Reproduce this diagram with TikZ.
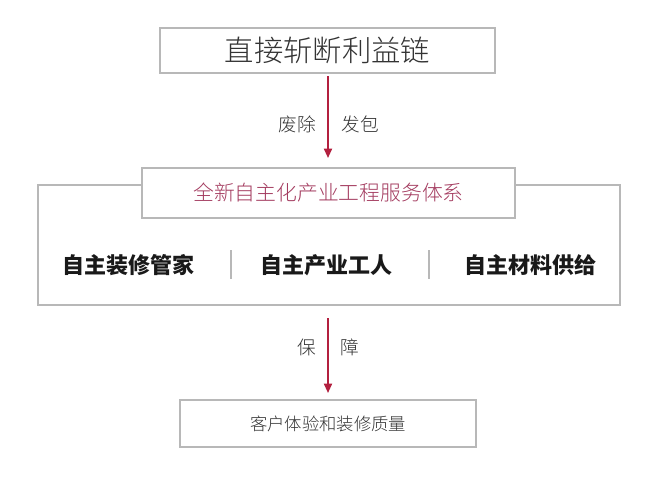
\documentclass[tikz,border=0pt]{standalone}
\usepackage{fontspec}
\newfontfamily\cjk{Noto Sans CJK SC}
\newfontfamily\cjkl{Noto Sans CJK SC Light}
\usetikzlibrary{arrows.meta}
\definecolor{arr}{HTML}{B3203F}
\definecolor{ttl}{HTML}{A33A5E}
\definecolor{bx}{HTML}{B8B8B8}
\definecolor{tx}{HTML}{333333}
\tikzset{box/.style={draw=bx,line width=1.2pt,fill=white},
 conn/.style={draw=arr,line width=1.3pt,-{Triangle[length=7pt,width=6pt]}},
 lab/.style={text=tx,font=\cjkl\fontsize{14}{14}\selectfont},
 item/.style={text=black!90,font=\cjk\bfseries\fontsize{16.5}{16.5}\selectfont}}
\begin{document}
\begin{tikzpicture}[x=0.75pt,y=-0.75pt]
\useasboundingbox (0,0) rectangle (660,476);
\fill[white] (0,0) rectangle (660,476);
\draw[box] (160,28) rectangle (495,73);
\node[text=tx,font=\cjkl\fontsize{22}{22}\selectfont] (top) at (327.5,50.5) {直接斩断利益链};
\coordinate (a1) at (328,76);
\coordinate (a2) at (328,158);
\draw[conn] (a1) -- (a2);
\node[lab] (l1) at (297,124) {废除};
\node[lab] (l2) at (360,124) {发包};
\draw[box] (38,185) rectangle (620,305);
\draw[box] (142,168) rectangle (515,218);
\node[text=ttl,font=\cjkl\fontsize{15.6}{15.6}\selectfont] (ttl) at (328.5,193) {全新自主化产业工程服务体系};
\node[item] (i1) at (128,265) {自主装修管家};
\node[item] (i2) at (326,265) {自主产业工人};
\node[item] (i3) at (530,265) {自主材料供给};
\draw[bx,line width=0.8pt] (231,250) -- (231,279) (429,250) -- (429,279);
\coordinate (b1) at (328,318);
\coordinate (b2) at (328,393);
\draw[conn] (b1) -- (b2);
\node[lab] (l3) at (307,347) {保};
\node[lab] (l4) at (350,347) {障};
\draw[box] (180,400) rectangle (476,447);
\node[text=tx,font=\cjkl\fontsize{13}{13}\selectfont] (bot) at (328,423.5) {客户体验和装修质量};
\end{tikzpicture}
\end{document}
